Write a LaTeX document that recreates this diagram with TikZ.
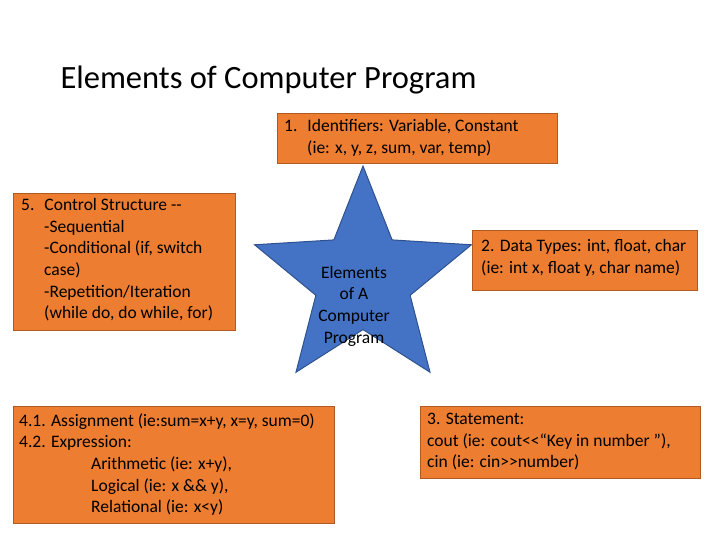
\documentclass[tikz,border=0pt]{standalone}
\usepackage{fontspec}
\setmainfont{Carlito}[Ligatures=TeXOff]
\usetikzlibrary{shapes.geometric}
\definecolor{org}{HTML}{ED7D31}
\definecolor{orgd}{HTML}{AE5A21}
\definecolor{blu}{HTML}{4472C4}
\definecolor{blud}{HTML}{2F528F}
\begin{document}
\begin{tikzpicture}[x=1pt,y=-1pt,
  box/.style={draw=orgd,fill=org,line width=1pt,rectangle,inner sep=0pt,anchor=north west},
  txt/.style={anchor=north west,align=left,font=\fontsize{17.5}{21.7}\selectfont,inner sep=0pt}]
\useasboundingbox (0,0) rectangle (720,540);
\node[anchor=west,font=\fontsize{32.5}{34}\selectfont] (title) at (57,80) {Elements of Computer Program};
% boxes
\node[box,minimum width=280,minimum height=50] (b1) at (277,113) {};
\node[box,minimum width=222,minimum height=137] (b5) at (13,193) {};
\node[box,minimum width=225,minimum height=60] (b2) at (472,230) {};
\node[box,minimum width=321,minimum height=117] (b4) at (13,406) {};
\node[box,minimum width=280,minimum height=72] (b3) at (420,406) {};
% star
\node[star,star points=5,star point ratio=2.3,minimum size=228,draw=blud,fill=blu,line width=1pt,inner sep=0pt] (st) at (363,280) {};
\node[align=center,font=\fontsize{17.5}{21.7}\selectfont,inner sep=0pt] (stt) at (354,306) {Elements\\of A\\Computer\\Program};
% texts
\node[txt] (t1) at (284,119) {1.\hspace{10pt}Identifiers: Variable, Constant\\\hspace{23pt}(ie: x, y, z, sum, var, temp)};
\node[txt] (t5) at (21,198) {5.\hspace{10pt}Control Structure --\\\hspace{23pt}-Sequential\\\hspace{23pt}-Conditional (if, switch\\\hspace{23pt}case)\\\hspace{23pt}-Repetition/Iteration\\\hspace{23pt}(while do, do while, for)};
\node[txt] (t2) at (481,239) {2. Data Types: int, float, char\\(ie: int x, float y, char name)};
\node[txt] (t4) at (19,413) {4.1. Assignment (ie:sum=x+y, x=y, sum=0)\\4.2. Expression:\\\hspace{72pt}Arithmetic (ie: x+y),\\\hspace{72pt}Logical (ie: x \&\& y),\\\hspace{72pt}Relational (ie: x<y)};
\node[txt] (t3) at (427,413) {3. Statement:\\cout (ie: cout<{}<“Key in number ”),\\cin (ie: cin>{}>number)};
\end{tikzpicture}
\end{document}
